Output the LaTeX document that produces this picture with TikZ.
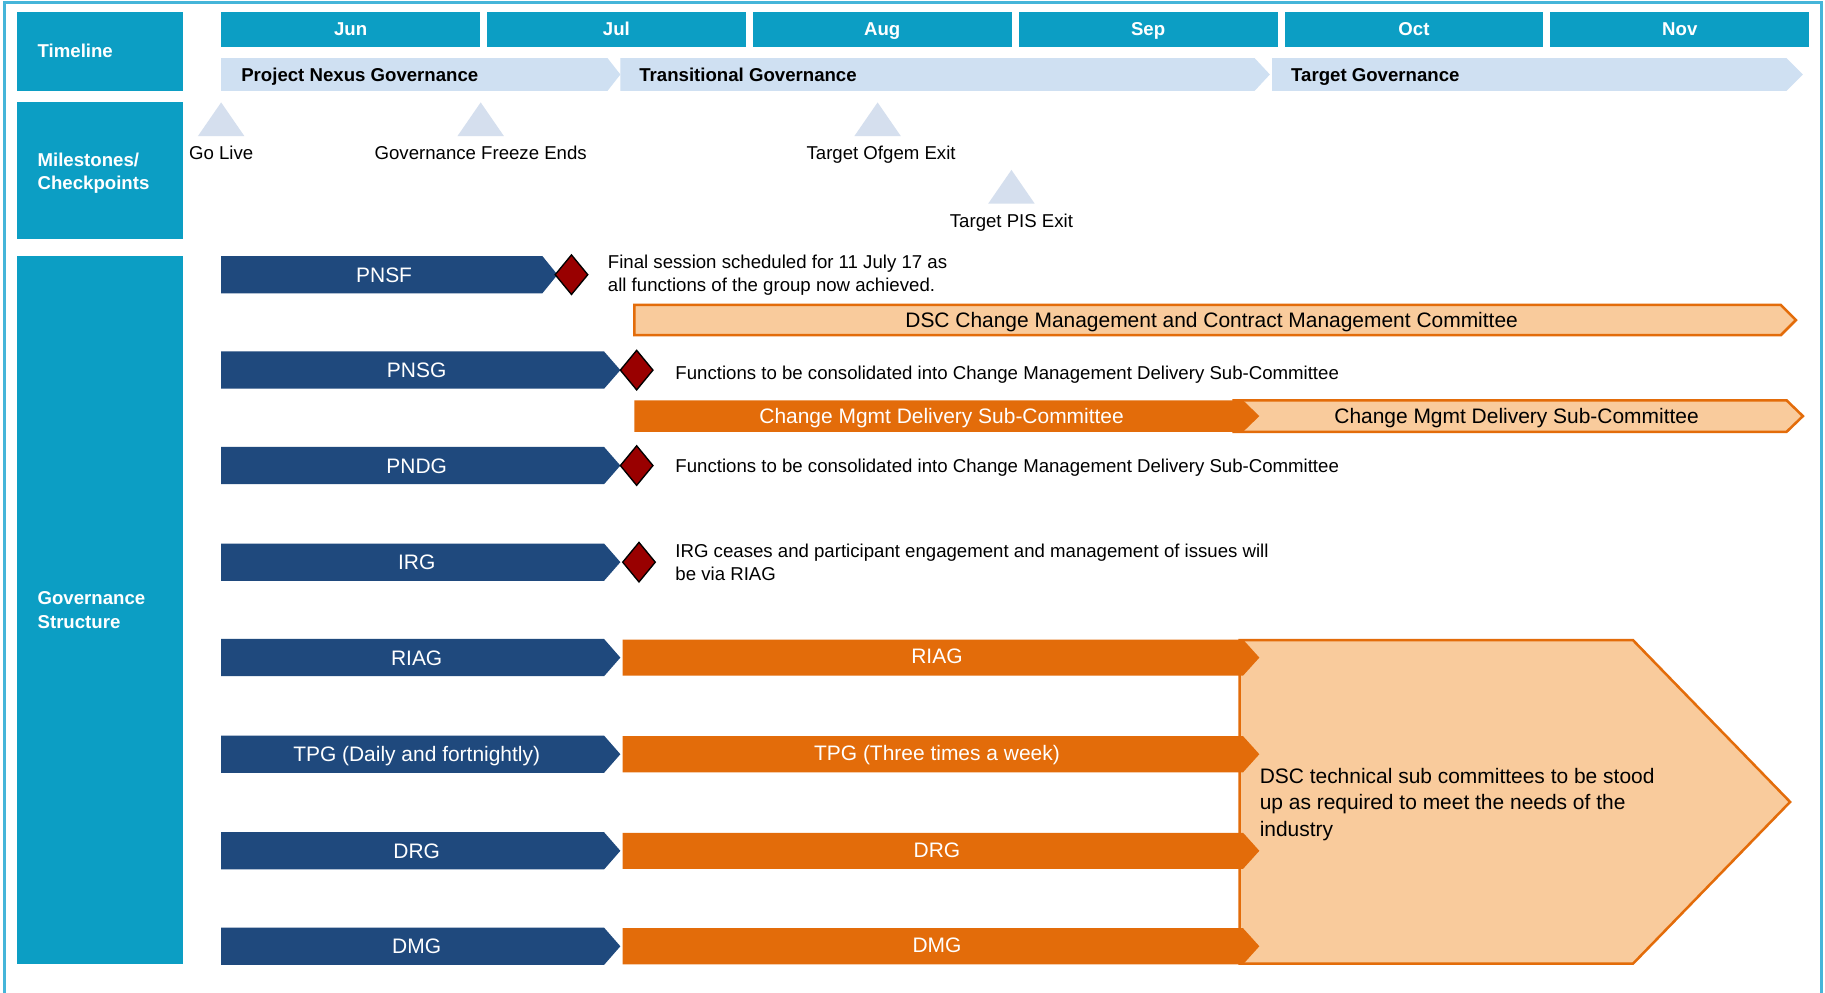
\documentclass[tikz,border=0pt]{standalone}
\usepackage{fontspec}
\setmainfont{Liberation Sans}
\begin{document}
\definecolor{tealC}{HTML}{0C9EC4}
\definecolor{frameC}{HTML}{45B5D9}
\definecolor{navyC}{HTML}{1F497D}
\definecolor{orngC}{HTML}{E36C0A}
\definecolor{lorngC}{HTML}{F9CB9C}
\definecolor{phaseC}{HTML}{CFE0F2}
\definecolor{triC}{HTML}{D5DFEE}
\definecolor{diaC}{HTML}{990000}
\begin{tikzpicture}[x=0.6pt,y=-0.6pt,
  smalltxt/.style={font=\fontsize{9.6}{12}\selectfont, inner sep=0pt},
  boldtxt/.style={font=\fontsize{9.6}{12}\selectfont\bfseries, inner sep=0pt},
  bigtxt/.style={font=\fontsize{10.8}{13.5}\selectfont, inner sep=0pt},
  leftbox/.style={fill=tealC},
  navybar/.style={fill=navyC},
  orngbar/.style={fill=orngC},
  lightbar/.style={fill=lorngC, draw=orngC, line width=1.3},
  phasebar/.style={fill=phaseC},
  milestone/.style={fill=triC},
  endmark/.style={fill=diaC, draw=black, line width=0.7}]
\useasboundingbox (0,0) rectangle (1568,853);
\fill[white] (0,0) rectangle (1568,853);
% frame
\draw[frameC, line width=1.5] (4,880) -- (4,2.5) -- (1565,2.5) -- (1565,880);

% left column
\fill[leftbox] (15,10) rectangle (157,78);
\fill[leftbox] (15,88) rectangle (157,205);
\fill[leftbox] (15,220) rectangle (157,828);
\node[boldtxt, white, anchor=base west] (tl) at (32,49.7) {Timeline};
\node[boldtxt, white, anchor=base west, align=left] (ms) at (32,162.7) {Milestones/\\Checkpoints};
\node[boldtxt, white, anchor=base west, align=left] (gs) at (32,539.7) {Governance\\Structure};

% months
\foreach \i/\m in {0/Jun,1/Jul,2/Aug,3/Sep,4/Oct,5/Nov}{
  \fill[tealC] ({190+\i*228.4},10) rectangle ({412.4+\i*228.4},40);
  \node[boldtxt, white, anchor=base] (m\m) at ({301.2+\i*228.4},30.7) {\m};
}

% phases
\fill[phasebar] (190,50) -- (522,50) -- (533,64) -- (522,78) -- (190,78) -- cycle;
\fill[phasebar] (533,50) -- (1078,50) -- (1091,64) -- (1078,78) -- (533,78) -- cycle;
\fill[phasebar] (1093,50) -- (1535,50) -- (1549,64) -- (1535,78) -- (1093,78) -- cycle;
\node[boldtxt, anchor=base west] (p1) at (207,69.7) {Project Nexus Governance};
\node[boldtxt, anchor=base west] (p2) at (549,69.7) {Transitional Governance};
\node[boldtxt, anchor=base west] (p3) at (1109,69.7) {Target Governance};

% milestones
\fill[milestone] (190,88) -- (210,117) -- (170,117) -- cycle;
\fill[milestone] (413,88) -- (433,117) -- (393,117) -- cycle;
\fill[milestone] (754,88) -- (774,117) -- (734,117) -- cycle;
\fill[milestone] (869,146) -- (889,175) -- (849,175) -- cycle;
\node[smalltxt, anchor=base] (goLive) at (190,136.7) {Go Live};
\node[smalltxt, anchor=base] (freeze) at (413,136.7) {Governance Freeze Ends};
\node[smalltxt, anchor=base] (ofgem) at (757,136.7) {Target Ofgem Exit};
\node[smalltxt, anchor=base] (pis) at (869,195.7) {Target PIS Exit};

% PNSF row
\fill[navybar] (190,220) -- (466,220) -- (479,236) -- (466,252) -- (190,252) -- cycle;
\node[bigtxt, white, anchor=base] (pnsf) at (330,242.4) {PNSF};
\filldraw[endmark] (491,219) -- (505,236) -- (491,253) -- (477,236) -- cycle;
\node[smalltxt, anchor=base west, align=left] (nPnsf) at (522,250.7) {Final session scheduled for 11 July 17 as\\all functions of the group now achieved.};

% DSC committee bar
\filldraw[lightbar] (545,262) -- (1530,262) -- (1543,275) -- (1530,288) -- (545,288) -- cycle;
\node[bigtxt, anchor=base] (dsc) at (1041,281.4) {DSC Change Management and Contract Management Committee};

% PNSG row
\fill[navybar] (190,302) -- (519,302) -- (533,318) -- (519,334) -- (190,334) -- cycle;
\node[bigtxt, white, anchor=base] (pnsg) at (358,324.4) {PNSG};
\filldraw[endmark] (547,301) -- (561,318) -- (547,335) -- (533,318) -- cycle;
\node[smalltxt, anchor=base west] (nPnsg) at (580,325.7) {Functions to be consolidated into Change Management Delivery Sub-Committee};

% Change Mgmt Delivery
\filldraw[lightbar] (1060,344) -- (1535,344) -- (1549,357.5) -- (1535,371) -- (1060,371) -- cycle;
\fill[orngbar] (545,344) -- (1068,344) -- (1082,357.5) -- (1068,371) -- (545,371) -- cycle;
\node[bigtxt, white, anchor=base] (cmd1) at (809,363.9) {Change Mgmt Delivery Sub-Committee};
\node[bigtxt, anchor=base] (cmd2) at (1303,363.9) {Change Mgmt Delivery Sub-Committee};

% PNDG row
\fill[navybar] (190,384) -- (519,384) -- (533,400) -- (519,416) -- (190,416) -- cycle;
\node[bigtxt, white, anchor=base] (pndg) at (358,406.4) {PNDG};
\filldraw[endmark] (547,383) -- (561,400) -- (547,417) -- (533,400) -- cycle;
\node[smalltxt, anchor=base west] (nPndg) at (580,405.7) {Functions to be consolidated into Change Management Delivery Sub-Committee};

% IRG row
\fill[navybar] (190,467) -- (519,467) -- (533,483) -- (519,499) -- (190,499) -- cycle;
\node[bigtxt, white, anchor=base] (irg) at (358,489.4) {IRG};
\filldraw[endmark] (549,466) -- (563,483) -- (549,500) -- (535,483) -- cycle;
\node[smalltxt, anchor=base west, align=left] (nIrg) at (580,498.7) {IRG ceases and participant engagement and management of issues will\\be via RIAG};

% big target pentagon
\filldraw[fill=lorngC, draw=orngC, line width=1.3] (1065,550) -- (1403,550) -- (1538,689) -- (1403,828) -- (1065,828) -- cycle;
\node[bigtxt, anchor=base west, align=left, font=\fontsize{10.8}{13.5}\selectfont] (dscTech) at (1082,718.4) {DSC technical sub committees to be stood\\up as required to meet the needs of the\\industry};

% lower rows
\foreach \c/\a/\b/\nm in {565/RIAG/RIAG/riag, 648/TPG (Daily and fortnightly)/TPG (Three times a week)/tpg, 731/DRG/DRG/drg, 813/DMG/DMG/dmg}{
  \fill[navybar] (190,\c-16) -- (519,\c-16) -- (533,\c) -- (519,\c+16) -- (190,\c+16) -- cycle;
  \node[bigtxt, white, anchor=base] (\nm old) at (358,\c+6.4) {\a};
  \fill[orngbar] (535,\c-15.5) -- (1068,\c-15.5) -- (1082,\c) -- (1068,\c+15.5) -- (535,\c+15.5) -- cycle;
  \node[bigtxt, white, anchor=base] (\nm new) at (805,\c+5.4) {\b};
}
\end{tikzpicture}
\end{document}
